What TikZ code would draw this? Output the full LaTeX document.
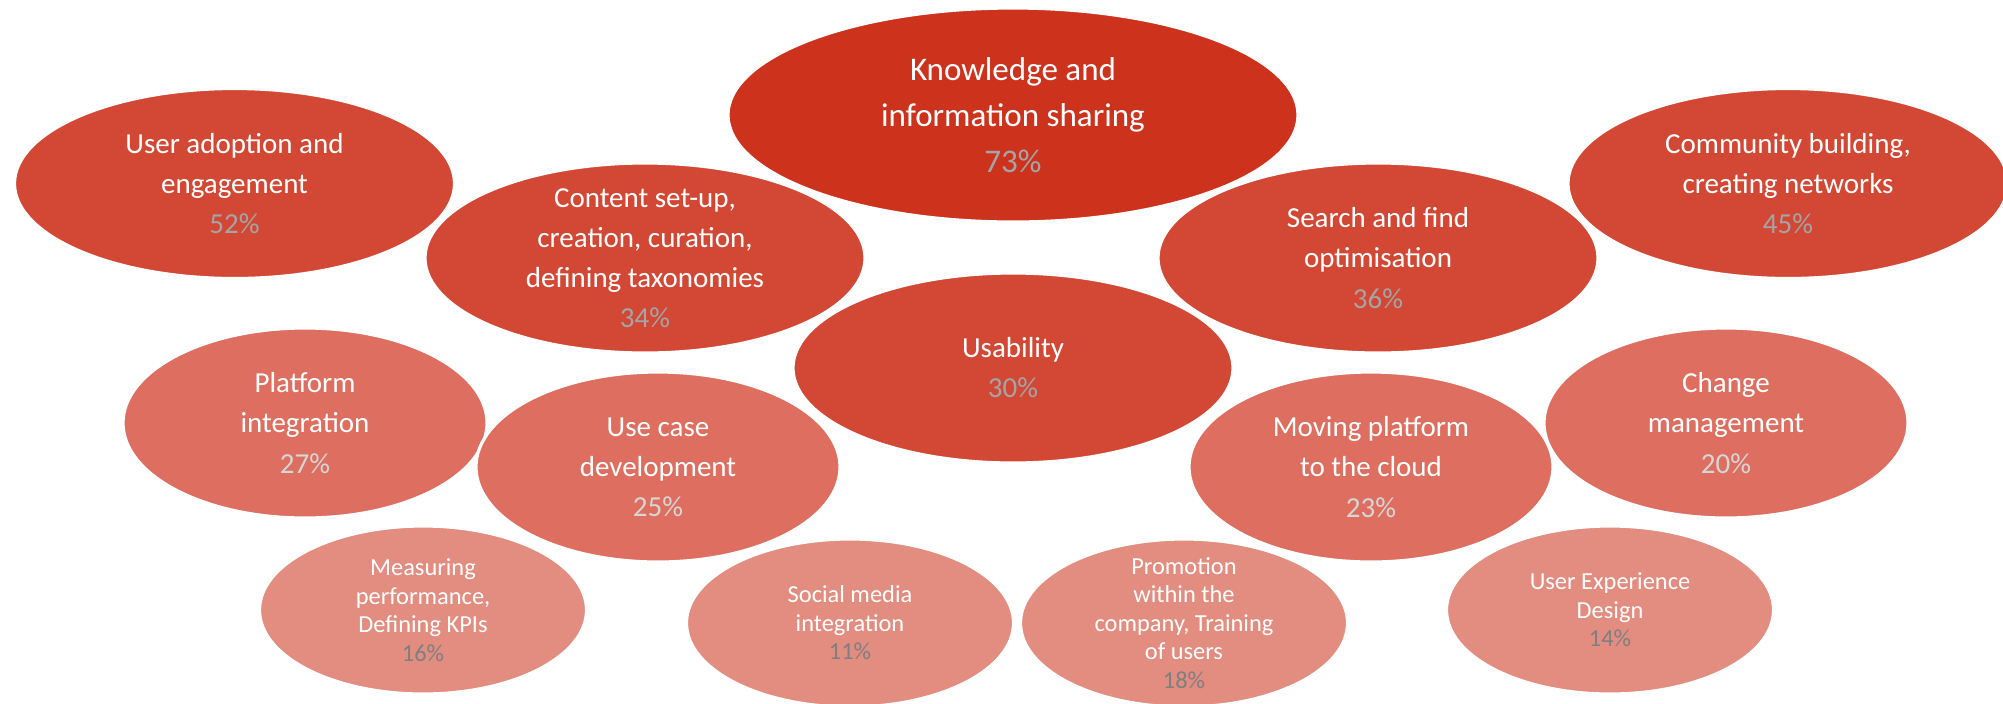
\documentclass[tikz,border=0pt]{standalone}
\usepackage{fontspec}
\setmainfont{Carlito}
\usetikzlibrary{shapes.geometric}
\definecolor{BubDeep}{HTML}{CD321D}
\definecolor{BubRed}{HTML}{D34834}
\definecolor{BubMid}{HTML}{DD6E60}
\definecolor{BubLight}{HTML}{E38C80}
\definecolor{PctGrey}{HTML}{A3A5A6}
\definecolor{PctPale}{HTML}{D6D6D6}
\definecolor{PctDark}{HTML}{7D7F80}
\tikzset{
    bubble/.style={ellipse, draw=white, line width=0.9pt, inner sep=0},
    headbub/.style={bubble, fill=BubDeep, minimum width=5.70cm, minimum height=2.14cm},
    bigbub/.style={bubble, fill=BubRed, minimum width=4.40cm, minimum height=1.90cm},
    midbub/.style={bubble, fill=BubMid, minimum width=3.64cm, minimum height=1.90cm},
    smallbub/.style={bubble, fill=BubLight, minimum width=3.27cm, minimum height=1.68cm},
    %
    headtext/.style={anchor=center, align=center, inner sep=0, text=white,
                     font=\fontsize{9.4}{13.1}\selectfont},
    bigtext/.style={anchor=center, align=center, inner sep=0, text=white,
                    font=\fontsize{8.25}{11.4}\selectfont},
    smalltext/.style={anchor=center, align=center, inner sep=0, text=white,
                      font=\fontsize{6.95}{8.1}\selectfont},
}
\newcommand{\headLabel}[3]{%
    \node[headtext] (#1t) at (#1.center) {#2\\\textcolor{PctGrey}{#3}};
}
\newcommand{\bigLabel}[3]{%
    \node[bigtext] (#1t) at (#1.center) {#2\\\textcolor{PctGrey}{#3}};
}
\newcommand{\midLabel}[3]{%
    \node[bigtext] (#1t) at (#1.center) {#2\\\textcolor{PctPale}{#3}};
}
\newcommand{\smallLabel}[3]{%
    \node[smalltext] (#1t) at (#1.center) {#2\\\textcolor{PctDark}{#3}};
}

\begin{document}
\begin{tikzpicture}
        \useasboundingbox (0,0) rectangle (20.03,7.03);
        %
        % First line
        \node[bigbub] (B1c3) at (17.88,5.195) {};
        \bigLabel{B1c3}{Community building,\\creating networks}{45\%}
        \node[bigbub] (B1c1) at (2.345,5.195) {};
        \bigLabel{B1c1}{User adoption and\\engagement}{52\%}
        %
        % Second line
        \node[bigbub] (B2c1) at (6.45,4.45) {};
        \bigLabel{B2c1}{Content set-up,\\creation, curation,\\defining taxonomies}{34\%}
        \node[bigbub] (B2c2) at (13.78,4.45) {};
        \bigLabel{B2c2}{Search and find\\optimisation}{36\%}
        \node[headbub] (B1c2) at (10.13,5.88) {};
        \headLabel{B1c2}{Knowledge and\\information sharing}{73\%}
        %
        % Third line
        \node[bigbub] (B3c1) at (10.13,3.35) {};
        \bigLabel{B3c1}{Usability}{30\%}
        %
        % Fourth line
        \node[midbub] (B4c1) at (3.05,2.80) {};
        \midLabel{B4c1}{Platform\\integration}{27\%}
        \node[midbub] (B4c4) at (17.26,2.80) {};
        \midLabel{B4c4}{Change\\management}{20\%}
        \node[midbub] (B4c2) at (6.58,2.36) {};
        \midLabel{B4c2}{Use case\\development}{25\%}
        \node[midbub] (B4c3) at (13.71,2.36) {};
        \midLabel{B4c3}{Moving platform\\to the cloud}{23\%}
        %
        % Fifth line
        \node[smallbub] (B5c1) at (4.23,0.93) {};
        \smallLabel{B5c1}{Measuring\\performance,\\Defining KPIs}{16\%}
        \node[smallbub] (B5c2) at (8.50,0.80) {};
        \smallLabel{B5c2}{Social media\\integration}{11\%}
        \node[smallbub] (B5c3) at (11.84,0.80) {};
        \smallLabel{B5c3}{Promotion\\within the\\company, Training\\of users}{18\%}
        \node[smallbub] (B5c4) at (16.10,0.93) {};
        \smallLabel{B5c4}{User Experience\\Design}{14\%}
    \end{tikzpicture}
\end{document}
